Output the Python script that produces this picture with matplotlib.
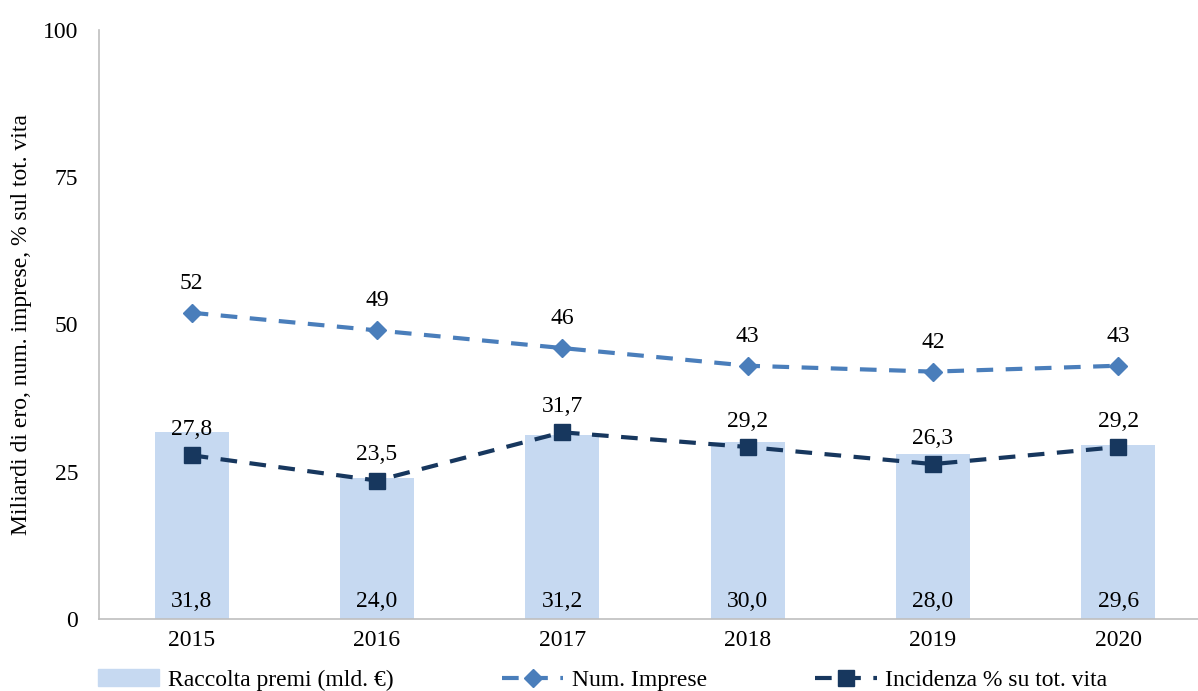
import matplotlib
matplotlib.use("Agg")
import matplotlib.pyplot as plt
from matplotlib.lines import Line2D
from matplotlib.patches import Patch

years = ["2015", "2016", "2017", "2018", "2019", "2020"]
raccolta = [31.8, 24.0, 31.2, 30.0, 28.0, 29.6]
imprese = [52, 49, 46, 43, 42, 43]
incidenza = [27.8, 23.5, 31.7, 29.2, 26.3, 29.2]
yticks = [0, 25, 50, 75, 100]

plt.rcParams['font.family'] = ['Liberation Serif', 'DejaVu Serif']
W, H = 1198, 691
fig = plt.figure(figsize=(W / 100, H / 100), dpi=100)
left, right, top, bottom = 99, 1211, 30, 619
ax = fig.add_axes([left / W, 1 - bottom / H, (right - left) / W, (bottom - top) / H])

bar_c = "#C6D9F1"
imp_c = "#4A7EBB"
inc_c = "#17375E"
x = list(range(len(years)))

ax.bar(x, raccolta, width=0.4, color=bar_c, zorder=1)
ax.plot(x, imprese, color=imp_c, lw=3, ls=(0, (4, 3)), marker="D", ms=9,
        mfc=imp_c, mec=imp_c, zorder=3)
ax.plot(x, incidenza, color=inc_c, lw=3, ls=(0, (4, 3)), marker="s", ms=12,
        mfc=inc_c, mec=inc_c, zorder=4)

fs = 17
for i in x:
    ax.text(i, 3.0, f"{raccolta[i]:.1f}".replace(".", ","), ha="center", va="center", fontsize=fs)
    ax.text(i, imprese[i] + 5.0, f"{imprese[i]}", ha="center", va="center", fontsize=fs)
    ax.text(i, incidenza[i] + 4.4, f"{incidenza[i]:.1f}".replace(".", ","), ha="center", va="center", fontsize=fs)

ax.set_xlim(-0.5, 5.5)
ax.set_ylim(0, 100)
ax.set_yticks(yticks)
ax.set_xticks(x)
ax.set_xticklabels(years)
ax.tick_params(length=0, labelsize=fs, pad=8)
ax.tick_params(axis="y", pad=15)
for s in ["top", "right"]:
    ax.spines[s].set_visible(False)
for s in ["left", "bottom"]:
    ax.spines[s].set_color("#BFBFBF")
    ax.spines[s].set_linewidth(1.2)
ax.set_ylabel("Miliardi di ero, num. imprese, % sul tot. vita", fontsize=fs)
ax.yaxis.set_label_coords(-(99 - 22) / (right - left), 0.5)
ax.yaxis.label.set_va("center")

handles = [
    Patch(color=bar_c, label="Raccolta premi (mld. €)"),
    Line2D([], [], color=imp_c, lw=3, ls=(0, (4, 3)), marker="D", ms=9, label="Num. Imprese"),
    Line2D([], [], color=inc_c, lw=3, ls=(0, (4, 3)), marker="s", ms=12, label="Incidenza % su tot. vita"),
]
fig.legend(handles=handles, loc="center", bbox_to_anchor=(0.503, 1 - 680 / H), ncol=3,
           frameon=False, fontsize=fs, handlelength=2.6, columnspacing=4.6, handletextpad=0.35,
           borderaxespad=0)

fig.savefig("out.png", dpi=100)
